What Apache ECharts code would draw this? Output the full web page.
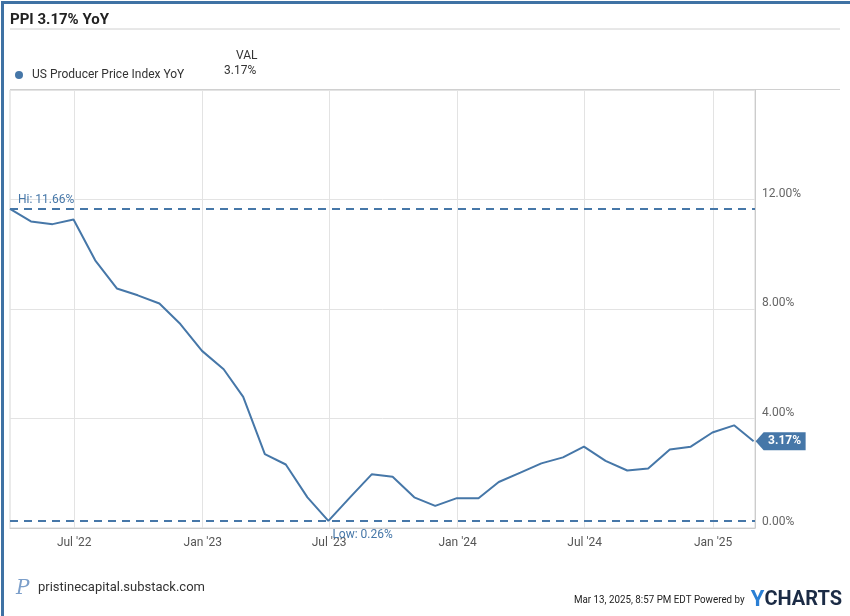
<!DOCTYPE html>
<html><head><meta charset="utf-8">
<script src="https://cdn.jsdelivr.net/npm/echarts@6/dist/echarts.min.js"></script>
<style>html,body{margin:0;padding:0;background:#fff}#c{width:850px;height:616px}</style>
</head><body><div id="c"></div>
<script>
// Month-end dates of each observation
const dates = [
 '2022-03-31','2022-04-30','2022-05-31','2022-06-30','2022-07-31','2022-08-31','2022-09-30','2022-10-31','2022-11-30','2022-12-31',
 '2023-01-31','2023-02-28','2023-03-31','2023-04-30','2023-05-31','2023-06-30','2023-07-31','2023-08-31','2023-09-30','2023-10-31','2023-11-30','2023-12-31',
 '2024-01-31','2024-02-29','2024-03-31','2024-04-30','2024-05-31','2024-06-30','2024-07-31','2024-08-31','2024-09-30','2024-10-31','2024-11-30','2024-12-31',
 '2025-01-31','2025-02-28'];
const ppiYoY = [
 11.66,11.2,11.1,11.27,9.78,8.75,8.5,8.2,7.45,6.47,
 5.8,4.79,2.7,2.32,1.12,0.26,1.12,1.96,1.87,1.12,0.81,1.09,
 1.09,1.68,2.02,2.36,2.58,2.97,2.45,2.1,2.17,2.87,2.97,3.49,
 3.75,3.17];
const xTicks = ['2022-07-01','2023-01-01','2023-07-01','2024-01-01','2024-07-01','2025-01-01'];
const xTickLabels = ["Jul '22","Jan '23","Jul '23","Jan '24","Jul '24","Jan '25"];
const yTicks = [0,4,8,12,16];
const seriesName = 'US Producer Price Index YoY';
const titleText = 'PPI 3.17% YoY';
const xMin = '2022-03-31', xMax = '2025-03-02';

const BLUE = '#4677a8';
const toTime = s => { const p = s.split('-').map(Number); return Date.UTC(p[0], p[1]-1, p[2]); };
const tickTimes = xTicks.map(toTime);
const lastIdx = ppiYoY.length - 1;
const fmt = v => v.toFixed(2) + '%';

const chart = echarts.init(document.getElementById('c'), null, {renderer:'canvas'});
chart.setOption({
  animation:false,
  textStyle:{fontFamily:'Roboto'},
  title:{text:titleText,left:5,top:8,textStyle:{fontFamily:'Roboto',fontSize:15,fontWeight:'bold',color:'#222'}},
  legend:{left:10,top:64,icon:'circle',itemWidth:8,itemHeight:8,itemGap:4,
    textStyle:{fontFamily:'Roboto',fontSize:12,color:'#333',padding:[0,0,0,4]},data:[seriesName]},
  grid:{left:10,right:95,top:90,bottom:88,show:true,borderColor:'#d6d6d6',borderWidth:1,
    containLabel:false,outerBoundsMode:'none'},
  xAxis:{type:'value',min:toTime(xMin),max:toTime(xMax),scale:true,
    axisLine:{show:true,lineStyle:{color:'#ccc'}},
    axisTick:{show:false,customValues:tickTimes},
    splitLine:{show:true,lineStyle:{color:'#e3e3e3'}},
    axisLabel:{color:'#555',fontSize:12,margin:9,hideOverlap:false,customValues:tickTimes,
      formatter:function(v){const i=tickTimes.indexOf(v);return i>=0?xTickLabels[i]:'';}}},
  yAxis:{type:'value',position:'right',min:yTicks[0],max:yTicks[yTicks.length-1],interval:4,
    axisLine:{show:true,lineStyle:{color:'#ccc'}},axisTick:{show:false},
    splitLine:{show:true,lineStyle:{color:'#e3e3e3'}},
    axisLabel:{color:'#666',fontSize:12,margin:7,verticalAlign:'bottom',
      formatter:v=> v===yTicks[yTicks.length-1] ? '' : fmt(v)}},
  series:[{
    name:seriesName,type:'line',showSymbol:false,symbol:'circle',
    color:BLUE,lineStyle:{width:2,color:BLUE},
    data:dates.map((d,i)=>[toTime(d),ppiYoY[i]]),
    markLine:{silent:true,symbol:'none',
      lineStyle:{color:BLUE,type:[8,6],width:2},
      data:[
        {type:'max',valueDim:'y',label:{show:true,position:'insideStartTop',formatter:p=>'Hi: '+fmt(p.value),color:BLUE,fontSize:12,distance:[8,3]}},
        {type:'min',valueDim:'y',label:{show:false}}
      ]},
    markPoint:{silent:true,
      data:[
        {type:'min',valueDim:'y',symbolSize:0,label:{show:true,position:'right',offset:[-1,14],formatter:p=>'Low: '+fmt(p.value),color:BLUE,fontSize:12}},
        {coord:[toTime(dates[lastIdx]),ppiYoY[lastIdx]],symbol:'path://M0,9 L8,0 L50,0 L50,18 L8,18 Z',symbolSize:[50,18],symbolOffset:[27,0],
          itemStyle:{color:BLUE},
          label:{show:true,position:'inside',offset:[4,0],formatter:fmt(ppiYoY[lastIdx]),color:'#fff',fontWeight:'bold',fontSize:12}}
      ]}
  }],
  graphic:[
    {type:'rect',left:0,top:0,shape:{width:850,height:616},style:{fill:'none',stroke:'#3f72a4',lineWidth:3},z:100},
    {type:'line',shape:{x1:10,y1:29,x2:840,y2:29},style:{stroke:'#d0d0d0',lineWidth:1}},
    {type:'line',shape:{x1:10,y1:89.5,x2:840,y2:89.5},style:{stroke:'#d0d0d0',lineWidth:1}},
    {type:'text',left:236,top:50,style:{text:'VAL',font:'12px Roboto',fill:'#333'}},
    {type:'text',left:224,top:65,style:{text:fmt(ppiYoY[lastIdx]),font:'12px Roboto',fill:'#333'}},
    {type:'text',left:16,top:579,style:{text:'P',font:'italic 20px "DejaVu Serif"',fill:'#7c9fca'}},
    {type:'text',left:38,top:581,style:{text:'pristinecapital.substack.com',font:'13px Roboto',fill:'#333'}},
    {type:'text',left:574,top:595,scaleX:0.89,style:{text:'Mar 13, 2025, 8:57 PM EDT Powered by',font:'11px Roboto',fill:'#222'}},
    {type:'text',right:8,top:589,style:{text:'{y|Y}{c|CHARTS}',rich:{y:{font:'bold 22px Roboto',fill:'#2a7fd4'},c:{font:'bold 20px Roboto',fill:'#1b2b45'}}}}
  ]
});
</script></body></html>
